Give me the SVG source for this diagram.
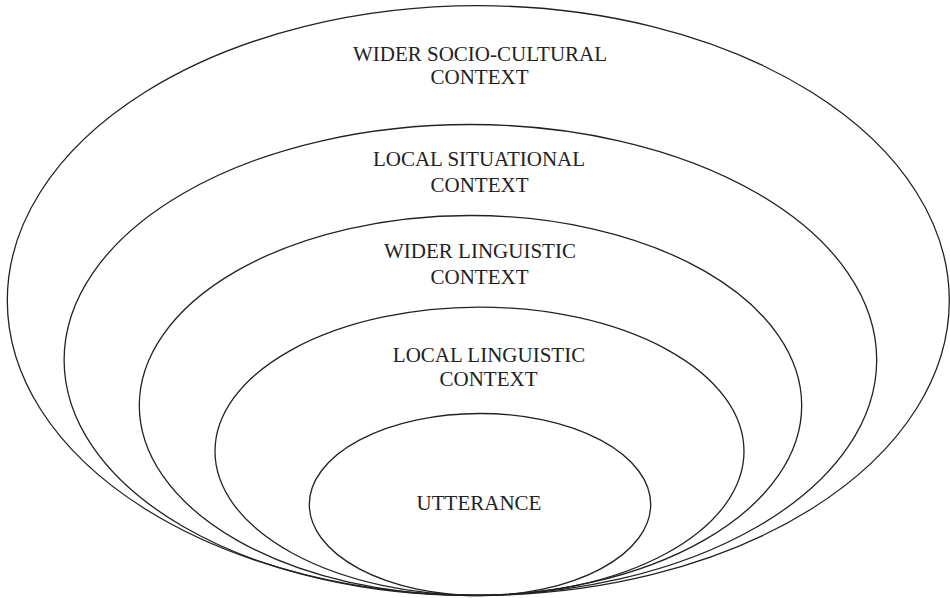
<svg xmlns="http://www.w3.org/2000/svg" width="950" height="598" viewBox="0 0 950 598">
<style>
.ring{fill:none;stroke:#222;stroke-width:1.3}
.lbl{font-family:"Liberation Serif","Times New Roman",serif;font-size:21px;fill:#222;text-anchor:middle}
</style>
<rect width="950" height="598" fill="#fff"/>
<g id="wider-socio-cultural">
<ellipse class="ring" cx="478.3" cy="300.5" rx="471" ry="294.8"/>
<text class="lbl" x="480" y="61">WIDER SOCIO-CULTURAL</text>
<text class="lbl" x="479.5" y="84">CONTEXT</text>
</g>
<g id="local-situational">
<ellipse class="ring" cx="470.4" cy="360" rx="406.3" ry="235.5"/>
<text class="lbl" x="479" y="166">LOCAL SITUATIONAL</text>
<text class="lbl" x="479.5" y="192">CONTEXT</text>
</g>
<g id="wider-linguistic">
<ellipse class="ring" cx="470.5" cy="405.5" rx="331.2" ry="190"/>
<text class="lbl" x="480" y="258">WIDER LINGUISTIC</text>
<text class="lbl" x="479.5" y="284">CONTEXT</text>
</g>
<g id="local-linguistic">
<ellipse class="ring" cx="479.5" cy="451.3" rx="264.5" ry="144.2"/>
<text class="lbl" x="489" y="362">LOCAL LINGUISTIC</text>
<text class="lbl" x="488.5" y="386">CONTEXT</text>
</g>
<g id="utterance">
<ellipse class="ring" cx="480" cy="504.5" rx="170.7" ry="91"/>
<text class="lbl" x="479" y="510">UTTERANCE</text>
</g>
<g id="connectors"></g>
</svg>
